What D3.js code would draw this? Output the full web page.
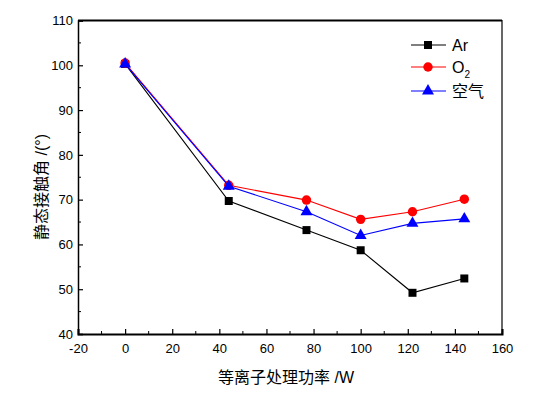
<!DOCTYPE html>
<html><head><meta charset="utf-8">
<script src="https://cdn.jsdelivr.net/npm/d3@7"></script>
<style>body{margin:0;background:#fff}svg{display:block}text{font-family:"Liberation Sans",Arial,"Noto Sans CJK SC",sans-serif}</style>
</head><body>
<script>
const powers = [0, 44, 77, 100, 122, 144];
const ar = [100.3, 69.7, 63.2, 58.7, 49.2, 52.4];
const o2 = [100.5, 73.2, 69.9, 65.6, 67.3, 70.1];
const air = [100.3, 73.0, 67.3, 62.0, 64.7, 65.7];
const xTicks = [-20, 0, 20, 40, 60, 80, 100, 120, 140, 160];
const yTicks = [40, 50, 60, 70, 80, 90, 100, 110];

const W = 535, H = 399;
const svg = d3.select("body").append("svg").attr("width", W).attr("height", H);
const x = d3.scaleLinear().domain([-20, 160]).range([78, 502]);
const y = d3.scaleLinear().domain([40, 110]).range([334, 20.5]);

// frame
svg.append("line").attr("x1", 78).attr("x2", 502).attr("y1", 20.5).attr("y2", 20.5).attr("stroke", "#000").attr("stroke-width", 2);
svg.append("line").attr("x1", 502).attr("x2", 502).attr("y1", 20).attr("y2", 334).attr("stroke", "#000").attr("stroke-width", 1.2);

// axes
const xMinor = d3.range(-10, 160, 20);
const yMinor = d3.range(45, 110, 10);
const gx = svg.append("g").attr("transform", "translate(0,334)");
gx.call(d3.axisBottom(x).tickValues(xTicks).tickSize(-5).tickPadding(10).tickFormat(d => String(d)));
gx.selectAll(".tick line").attr("stroke-width", 1.2);
gx.select(".domain").attr("stroke-width", 2);
gx.selectAll("text").attr("font-size", 13).attr("fill", "#000");
svg.append("g").selectAll("line").data(xMinor).join("line")
  .attr("x1", d => x(d)).attr("x2", d => x(d)).attr("y1", 334).attr("y2", 331).attr("stroke", "#000");

const gy = svg.append("g").attr("transform", "translate(78,0)");
gy.call(d3.axisLeft(y).tickValues(yTicks).tickSize(-5).tickPadding(5).tickFormat(d => String(d)));
gy.selectAll(".tick line").attr("stroke-width", 1.2);
gy.select(".domain").attr("stroke-width", 1.5);
gy.selectAll("text").attr("font-size", 13).attr("fill", "#000");
svg.append("g").selectAll("line").data(yMinor).join("line")
  .attr("x1", 78).attr("x2", 81).attr("y1", d => y(d)).attr("y2", d => y(d)).attr("stroke", "#000");

// titles
svg.append("text").attr("x", 286).attr("y", 383).attr("text-anchor", "middle").attr("font-size", 16)
  .text("等离子处理功率 /W");
svg.append("text").attr("transform", "translate(47,187) rotate(-90)").attr("text-anchor", "middle").attr("font-size", 16)
  .text("静态接触角 /(°)");

const series = [
  {name: "Ar", vals: ar, color: "#000000", shape: d3.symbolSquare, size: 64},
  {name: "O2", vals: o2, color: "#ff0000", shape: d3.symbolCircle, size: 70},
  {name: "空气", vals: air, color: "#0000ff", shape: d3.symbolTriangle, size: 62}
];
const line = d3.line().x(d => x(d[0])).y(d => y(d[1]));
series.forEach(s => {
  const pts = powers.map((p, i) => [p, s.vals[i]]);
  svg.append("path").attr("d", line(pts)).attr("fill", "none").attr("stroke", s.color).attr("stroke-width", 1.1);
  svg.append("g").selectAll("path").data(pts).join("path")
    .attr("d", d3.symbol().type(s.shape).size(s.size))
    .attr("transform", d => `translate(${x(d[0])},${y(d[1])})`)
    .attr("fill", s.color);
});

// legend
const ly = [45, 67, 91];
series.forEach((s, i) => {
  const g = svg.append("g");
  g.append("line").attr("x1", 411).attr("x2", 446).attr("y1", ly[i]).attr("y2", ly[i]).attr("stroke", s.color).attr("stroke-width", 1.1);
  g.append("path").attr("d", d3.symbol().type(s.shape).size(s.size)).attr("transform", `translate(428,${ly[i]})`).attr("fill", s.color);
  const t = g.append("text").attr("x", 452).attr("y", ly[i] + 6).attr("font-size", 16);
  if (s.name === "O2") {
    t.append("tspan").text("O");
    t.append("tspan").attr("font-size", 10).attr("dy", 5).text("2");
  } else {
    t.text(s.name);
  }
});
</script>
</body></html>
